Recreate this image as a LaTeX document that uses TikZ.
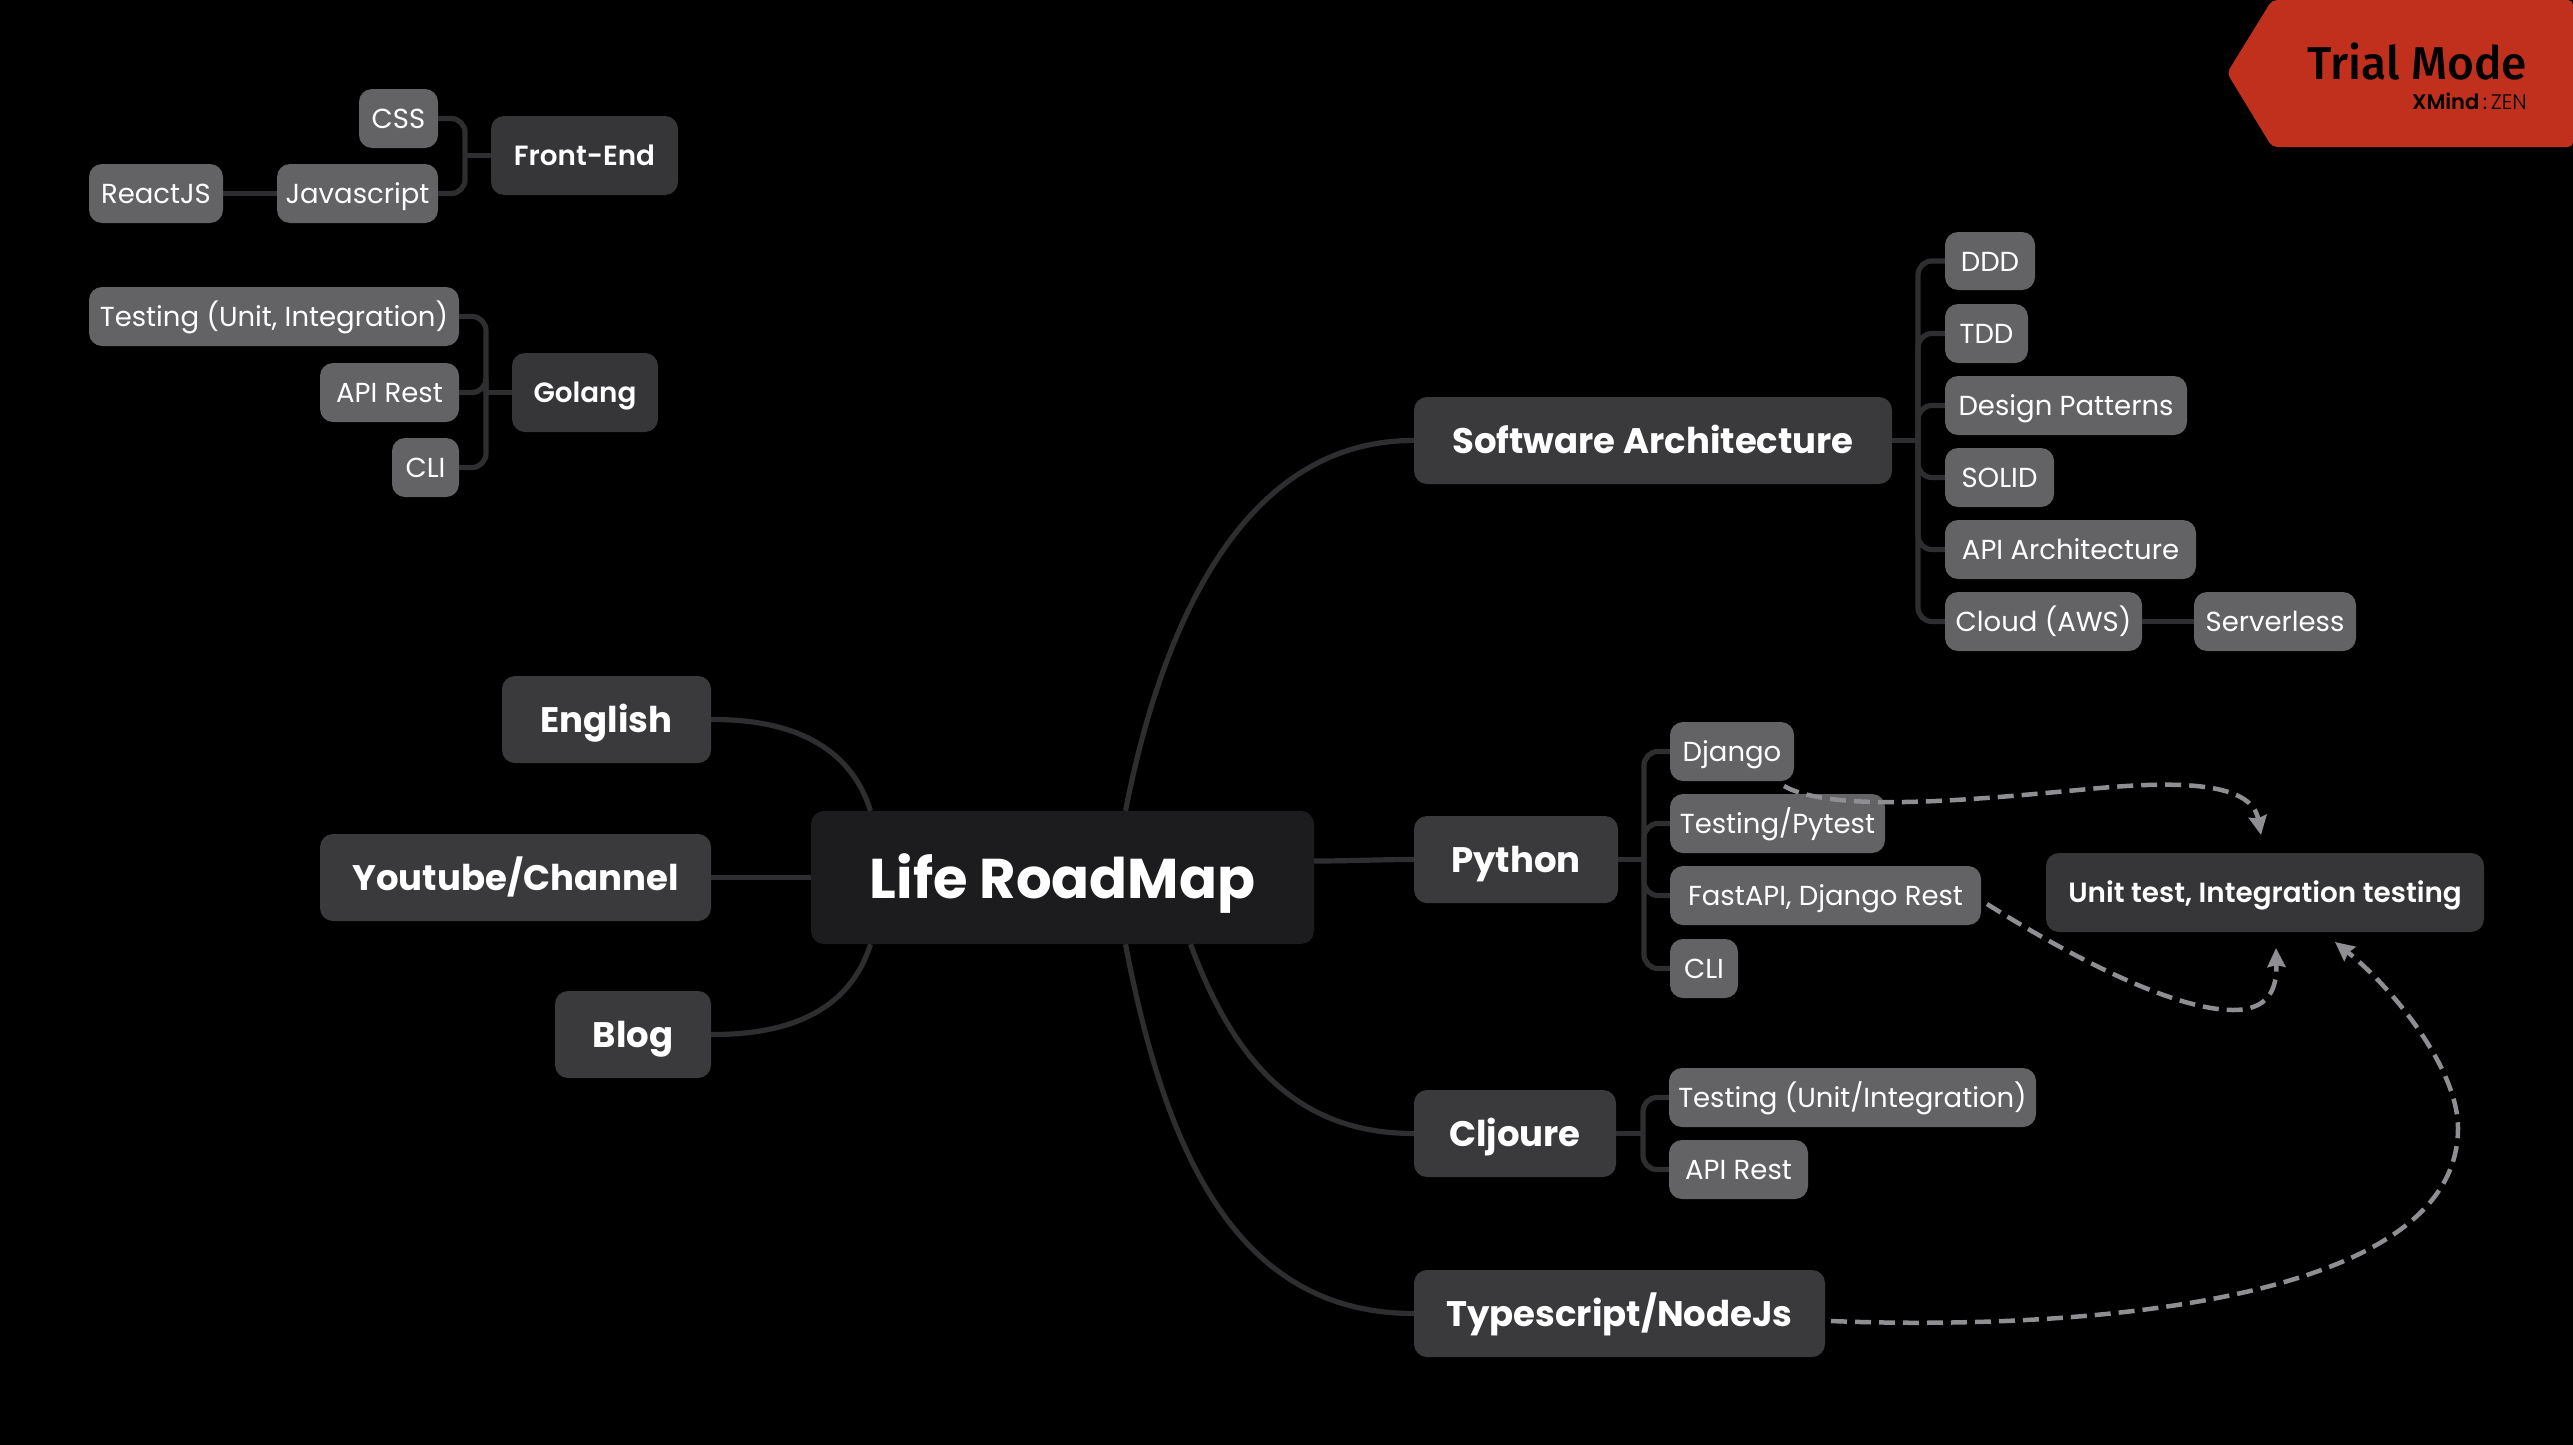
\documentclass[tikz,border=0pt]{standalone}
\usepackage{fontspec}
\setmainfont{Poppins}[BoldFont={Poppins SemiBold}]
\newfontfamily\heavyfont{Poppins}[BoldFont={Poppins Bold}]
\newfontfamily\trialfont{Fira Sans Medium}
\newfontfamily\zenfont{Poppins Light}
\usetikzlibrary{arrows.meta,calc}
\definecolor{bgc}{HTML}{000000}
\definecolor{rootc}{HTML}{1C1C1E}
\definecolor{mainc}{HTML}{3A3A3C}
\definecolor{midc}{HTML}{363638}
\definecolor{subc}{HTML}{636366}
\definecolor{linkc}{HTML}{2E2E30}
\definecolor{dashc}{HTML}{8E8E93}
\definecolor{trialc}{HTML}{C0301C}
\tikzset{
  bxbase/.style={rounded corners=13pt,inner sep=0pt,text=white,align=center},
  rootbox/.style={bxbase,fill=rootc,font=\heavyfont\fontsize{56}{56}\selectfont\bfseries,text height=41pt,text depth=0pt},
  bigbox/.style={bxbase,fill=mainc,font=\heavyfont\fontsize{35.5}{36}\selectfont\bfseries,text height=26pt,text depth=0pt},
  midbox/.style={bxbase,fill=midc,font=\fontsize{27.8}{28}\selectfont\bfseries,text height=20pt,text depth=0pt},
  subbox/.style={bxbase,fill=subc,font=\fontsize{27.5}{28}\selectfont,text height=20pt,text depth=0pt},
  link/.style={draw=linkc,line width=5.2pt},
  tree/.style={draw=linkc,line width=5.2pt,rounded corners=14pt},
  dashlink/.style={draw=dashc,line width=4.5pt,dash pattern=on 16pt off 8pt,-{Stealth[length=19pt,width=18pt,inset=2pt]}},
}
\newcommand{\bx}[7]{\node[#1,minimum width={(#5-#3)*1pt},minimum height={(#6-#4)*1pt}] (#2) at ({(#3+#5)/2},{(#4+#6)/2}) {#7};}
\begin{document}
\begin{tikzpicture}[x=1pt,y=-1pt]
\useasboundingbox (0,0) rectangle (2573,1445);
\fill[bgc] (0,0) rectangle (2573,1445);
% badge
\fill[trialc,rounded corners=5pt] (2227,73) -- (2272,0) -- (2573,0) -- (2573,147) -- (2272,147) -- cycle;
\node[anchor=base east,inner sep=0pt,font=\trialfont\fontsize{46}{46}\selectfont] (trial) at (2527,79) {Trial Mode};
\node[anchor=base east,inner sep=0pt,font=\fontsize{21}{21}\selectfont] (zen) at (2527,109) {\textbf{XMind}\,:\,{\zenfont ZEN}};
% nodes
\bx{rootbox}{root}{811}{811}{1314}{944}{Life RoadMap}
\bx{bigbox}{english}{502}{676}{711}{763}{English}
\bx{bigbox}{youtube}{320}{834}{711}{921}{Youtube/Channel}
\bx{bigbox}{blog}{555}{991}{711}{1078}{Blog}
\bx{bigbox}{sa}{1414}{397}{1892}{484}{Software Architecture}
\bx{bigbox}{python}{1414}{816}{1618}{903}{Python}
\bx{bigbox}{cljoure}{1414}{1090}{1616}{1177}{Cljoure}
\bx{bigbox}{ts}{1414}{1270}{1825}{1357}{Typescript/NodeJs}
\bx{midbox}{frontend}{491}{116}{678}{195}{Front-End}
\bx{midbox}{golang}{512}{353}{658}{432}{Golang}
\bx{midbox}{unit}{2046}{853}{2484}{932}{Unit test, Integration testing}
\bx{subbox}{css}{359}{89}{438}{148}{CSS}
\bx{subbox}{js}{277}{164}{438}{223}{Javascript}
\bx{subbox}{react}{89}{164}{223}{223}{ReactJS}
\bx{subbox}{gotest}{89}{287}{459}{346}{Testing (Unit, Integration)}
\bx{subbox}{goapi}{320}{363}{459}{422}{API Rest}
\bx{subbox}{gocli}{392}{438}{459}{497}{CLI}
\bx{subbox}{ddd}{1945}{232}{2035}{290}{DDD}
\bx{subbox}{tdd}{1945}{304}{2028}{363}{TDD}
\bx{subbox}{design}{1945}{376}{2187}{435}{Design Patterns}
\bx{subbox}{solid}{1945}{448}{2054}{507}{SOLID}
\bx{subbox}{apiarch}{1945}{520}{2196}{579}{API Architecture}
\bx{subbox}{cloud}{1945}{592}{2142}{651}{Cloud (AWS)}
\bx{subbox}{serverless}{2194}{592}{2356}{651}{Serverless}
\bx{subbox}{django}{1670}{722}{1794}{781}{Django}
\bx{subbox}{pytest}{1670}{794}{1885}{853}{Testing/Pytest}
\bx{subbox}{fastapi}{1670}{866}{1981}{925}{FastAPI, Django Rest}
\bx{subbox}{pycli}{1670}{939}{1738}{998}{CLI}
\bx{subbox}{cltest}{1669}{1068}{2036}{1127}{Testing (Unit/Integration)}
\bx{subbox}{clapi}{1669}{1140}{1808}{1199}{API Rest}
% junctions
\coordinate (jsa) at (1918,440.5);
\coordinate (jpy) at (1644,859.5);
\coordinate (jcl) at (1643,1133.5);
\coordinate (jfe) at (465,155.5);
\coordinate (jgo) at (486,392.5);
% main curves
\draw[link] (english.east) .. controls (790,719) and (850,745) .. ($(root.north)+(-192,0)$);
\draw[link] (youtube.east) -- (root.west |- youtube.east);
\draw[link] (blog.east) .. controls (790,1035) and (850,1010) .. ($(root.south)+(-192,0)$);
\draw[link] ($(root.north)+(63,0)$) .. controls (1165,610) and (1250,440) .. (sa.west);
\draw[link] (root.east |- 0,861) .. controls (1350,861) and (1380,859.5) .. (python.west);
\draw[link] ($(root.south)+(128,0)$) .. controls (1235,1065) and (1300,1133.5) .. (cljoure.west);
\draw[link] ($(root.south)+(63,0)$) .. controls (1165,1150) and (1235,1313.5) .. (ts.west);
% trees
\draw[link] (sa.east) -- (jsa);
\foreach \n in {ddd,tdd,design,solid,apiarch,cloud} \draw[tree] (jsa) |- (\n.west);
\draw[link] (cloud.east) -- (serverless.west);
\draw[link] (python.east) -- (jpy);
\foreach \n in {django,pytest,fastapi,pycli} \draw[tree] (jpy) |- (\n.west);
\draw[link] (cljoure.east) -- (jcl);
\foreach \n in {cltest,clapi} \draw[tree] (jcl) |- (\n.west);
\draw[link] (frontend.west) -- (jfe);
\foreach \n in {css,js} \draw[tree] (jfe) |- (\n.east);
\draw[link] (js.west) -- (react.east);
\draw[link] (golang.west) -- (jgo);
\foreach \n in {gotest,goapi,gocli} \draw[tree] (jgo) |- (\n.east);
% dashed relations
\coordinate (d1s) at (1784,786);
\coordinate (d1e) at (2261,835);
\coordinate (d2s) at (1987,904);
\coordinate (d2e) at (2276,948);
\coordinate (d3s) at (1831,1321);
\coordinate (d3e) at (2335,942);
\draw[dashlink] (d1s) .. controls (1835,815) and (1990,798) .. (2100,788) .. controls (2190,780) and (2252,785) .. (d1e);
\draw[dashlink] (d2s) .. controls (2060,950) and (2170,1010) .. (2233,1010) .. controls (2268,1010) and (2277,990) .. (d2e);
\draw[dashlink] (d3s) .. controls (2050,1330) and (2458,1310) .. (2458,1128) .. controls (2458,1070) and (2395,990) .. (d3e);
\end{tikzpicture}
\end{document}
